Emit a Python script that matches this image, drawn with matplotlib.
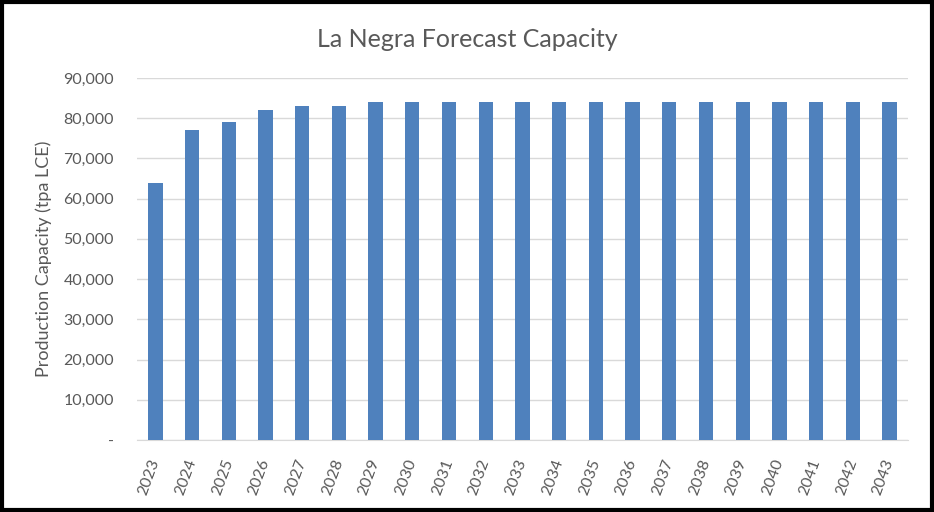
import matplotlib
matplotlib.use("Agg")
import matplotlib.pyplot as plt
from matplotlib.patches import Rectangle
from matplotlib.ticker import FuncFormatter

years = [str(y) for y in range(2023, 2044)]
capacity = [64000, 77000, 79000, 82000, 83000, 83000, 84000, 84000, 84000, 84000,
            84000, 84000, 84000, 84000, 84000, 84000, 84000, 84000, 84000, 84000, 84000]

plt.rcParams['font.family'] = ['Lato', 'DejaVu Sans']

fig = plt.figure(figsize=(9.34, 5.12), dpi=100)
ax = fig.add_axes([0.1467, 0.1406, 0.972 - 0.1467, 0.8477 - 0.1406])

x = range(len(years))
ax.bar(x, capacity, width=0.39, color='#4F81BD', zorder=3)
ax.set_xlim(-0.5, len(years) - 0.5)
ax.set_ylim(0, 90000)
ax.set_yticks(range(0, 90001, 10000))
ax.yaxis.set_major_formatter(FuncFormatter(lambda v, p: '-' if v == 0 else f'{int(v):,}'))
ax.grid(axis='y', color='#D9D9D9', linewidth=1, zorder=0)
ax.set_xticks(list(x))
ax.set_xticklabels(years, rotation=70, ha='right', va='center', rotation_mode='anchor')
for s in ['top', 'right', 'left']:
    ax.spines[s].set_visible(False)
ax.spines['bottom'].set_color('#D9D9D9')
ax.tick_params(axis='both', length=0, colors='#595959', labelsize=11.5)
ax.tick_params(axis='y', pad=16.5)
ax.tick_params(axis='x', pad=14)
ax.set_ylabel('Production Capacity (tpa LCE)', fontsize=13, color='#595959')
ax.yaxis.set_label_coords(-0.110, 0.5)
fig.text(0.5, 0.922, 'La Negra Forecast Capacity', ha='center', va='center', fontsize=18, color='#595959')

fig.patches.append(Rectangle((0.002, 0.003), 0.996, 0.994, transform=fig.transFigure,
                             fill=False, edgecolor='black', linewidth=3))
fig.savefig('out.png', dpi=100)
